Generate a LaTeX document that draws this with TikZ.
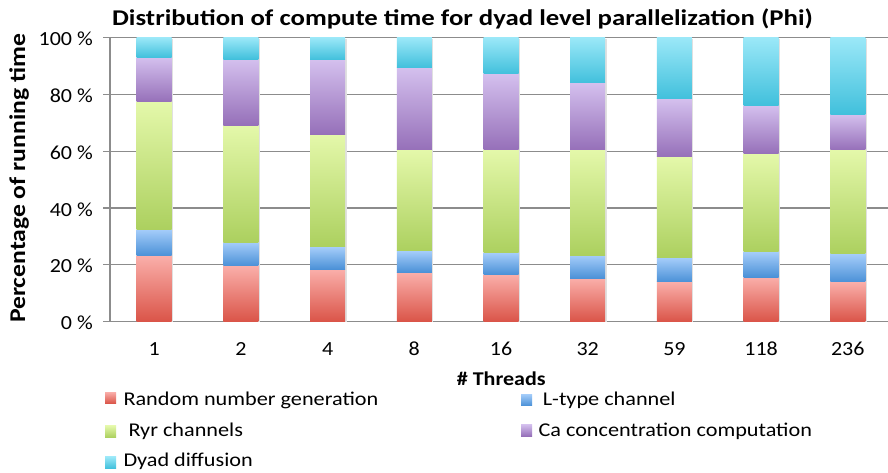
\documentclass[tikz,border=0pt]{standalone}
\usepackage{fontspec}
\setmainfont{Carlito}
\definecolor{redT}{RGB}{250,175,170}\definecolor{redB}{RGB}{218,84,72}
\definecolor{bluT}{RGB}{165,205,250}\definecolor{bluB}{RGB}{75,145,215}
\definecolor{grnT}{RGB}{228,248,170}\definecolor{grnB}{RGB}{172,208,95}
\definecolor{purT}{RGB}{212,192,238}\definecolor{purB}{RGB}{150,112,185}
\definecolor{cyaT}{RGB}{155,232,248}\definecolor{cyaB}{RGB}{65,192,220}
\definecolor{gridc}{RGB}{140,140,140}
\newcommand{\wx}[2]{\scalebox{#1}[1]{#2}}
\tikzset{
  segred/.style={top color=redT,bottom color=redB},
  segblu/.style={top color=bluT,bottom color=bluB},
  seggrn/.style={top color=grnT,bottom color=grnB},
  segpur/.style={top color=purT,bottom color=purB},
  segcya/.style={top color=cyaT,bottom color=cyaB},
  gridline/.style={draw=gridc,line width=1.1pt},
  ticklab/.style={font=\fontsize{20}{24}\selectfont,inner sep=0pt},
  legtext/.style={font=\fontsize{19.5}{23}\selectfont,inner sep=0pt,anchor=base west},
  boldlab/.style={font=\fontsize{22.5}{26}\selectfont\bfseries,inner sep=0pt},
}
\begin{document}
\begin{tikzpicture}[x=1pt,y=-1pt]
\useasboundingbox (0,0) rectangle (888,472);
\fill[white] (0,0) rectangle (888,472);
% title
\node[boldlab,anchor=base] (title) at (462.5,25.7) {\wx{1.19}{Distribution of compute time for dyad level parallelization (Phi)}};
% gridlines and y ticks
\foreach \p in {0,20,40,60,80,100}{
  \pgfmathsetmacro\yy{321.7-2.842*\p}
  \draw[gridline] (103,\yy) -- (888,\yy);
  \node[ticklab,anchor=base east] (yt\p) at (93,\yy+8) {\wx{1.1}{\p\ \%}};
}
\draw[gridline] (110,37.5) -- (110,321.7);
% y label
\node[boldlab,rotate=90,anchor=base] (ylab) at (25,178.5) {\wx{1.14}{Percentage of running time}};
% bars
\foreach \i/\n/\a/\b/\c/\d in {0/1/23.2/32.5/77.4/93.0, 1/2/19.7/28.0/69.2/92.4, 2/4/18.5/26.3/65.9/92.2, 3/8/17.4/24.9/60.5/89.4, 4/16/16.7/24.2/60.5/87.2, 5/32/15.3/23.4/60.5/84.0, 6/59/14.1/22.5/58.1/78.4, 7/118/15.7/24.6/59.1/76.2, 8/236/14.0/23.9/60.5/73.0}{
  \pgfmathsetmacro\xc{154.2+86.7*\i}
  \pgfmathsetmacro\xl{\xc-17.5}
  \pgfmathsetmacro\xr{\xc+17.5}
  \pgfmathsetmacro\ya{321.7-2.842*\a}
  \pgfmathsetmacro\yb{321.7-2.842*\b}
  \pgfmathsetmacro\yc{321.7-2.842*\c}
  \pgfmathsetmacro\yd{321.7-2.842*\d}
  \fill[black!12] (\xl+1.5,37.5+1.5) rectangle (\xr+1.5,321.7);
  \shade[segred] (\xl,\ya) rectangle (\xr,321.7);
  \shade[segblu] (\xl,\yb) rectangle (\xr,\ya);
  \shade[seggrn] (\xl,\yc) rectangle (\xr,\yb);
  \shade[segpur] (\xl,\yd) rectangle (\xr,\yc);
  \shade[segcya] (\xl,37.5) rectangle (\xr,\yd);
  \node[ticklab,anchor=base] (xt\i) at (\xc,355) {\wx{1.1}{\n}};
}
% x label
\node[boldlab,font=\fontsize{19.5}{23}\selectfont\bfseries,anchor=base] (xlab) at (501.3,385) {\wx{1.13}{\# Threads}};
% legend
\shade[segred] (105,392) rectangle (116,403.5);
\node[legtext] (l1) at (123.3,405) {\wx{1.14}{Random number generation}};
\shade[segblu] (521,394) rectangle (532,405.5);
\node[legtext] (l2) at (542.7,405) {\wx{1.14}{L-type channel}};
\shade[seggrn] (105,425.7) rectangle (116,437.3);
\node[legtext] (l3) at (128.3,436.7) {\wx{1.14}{Ryr channels}};
\shade[segpur] (521,424.3) rectangle (532,436);
\node[legtext] (l4) at (538.3,436.7) {\wx{1.14}{Ca concentration computation}};
\shade[segcya] (105,456.7) rectangle (116,468.3);
\node[legtext] (l5) at (123.3,466.7) {\wx{1.14}{Dyad diffusion}};
\end{tikzpicture}
\end{document}
